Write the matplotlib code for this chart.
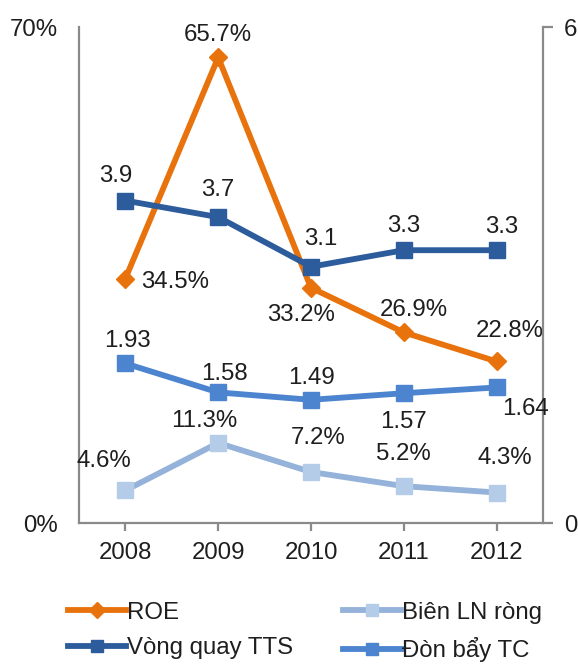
import matplotlib
matplotlib.use("Agg")
import matplotlib.pyplot as plt
from matplotlib.lines import Line2D

plt.rcParams['font.family'] = ['Liberation Sans', 'DejaVu Sans']

years = ["2008", "2009", "2010", "2011", "2012"]
roe = [34.5, 65.7, 33.2, 26.9, 22.8]           # %
bien_ln = [4.6, 11.3, 7.2, 5.2, 4.3]           # %
vong_quay = [3.9, 3.7, 3.1, 3.3, 3.3]
don_bay = [1.93, 1.58, 1.49, 1.57, 1.64]

roe_lbl = ["34.5%", "65.7%", "33.2%", "26.9%", "22.8%"]
bien_lbl = ["4.6%", "11.3%", "7.2%", "5.2%", "4.3%"]
vq_lbl = ["3.9", "3.7", "3.1", "3.3", "3.3"]
db_lbl = ["1.93", "1.58", "1.49", "1.57", "1.64"]

C_ROE = "#E8720C"
C_VQ = "#2D5C9C"
C_DB = "#4C84D0"
C_BIEN_L = "#94B2DA"
C_BIEN_M = "#B5CCE8"
GREY = "#8A8A8A"
TXT = "#1E1E1E"
FS = 17.3

fig = plt.figure(figsize=(5.78, 6.66), dpi=100)
ax = fig.add_axes([79/578, 1-523/666, (543-79)/578, (523-27)/666])
ax2 = ax.twinx()

x = list(range(len(years)))
lw = 4.2
ax.plot(x, roe, color=C_ROE, lw=lw, marker='D', ms=9.5, zorder=5)
ax.plot(x, bien_ln, color=C_BIEN_L, lw=lw, marker='s', ms=11,
        mfc=C_BIEN_M, mec=C_BIEN_M, zorder=4)
ax2.plot(x, vong_quay, color=C_VQ, lw=lw, marker='s', ms=11, zorder=4)
ax2.plot(x, don_bay, color=C_DB, lw=lw, marker='s', ms=11, zorder=4)

ax.set_xlim(-0.5, 4.5)
ax.set_ylim(0, 70)
ax2.set_ylim(0, 6)

ax.set_yticks([0, 70])
ax.set_yticklabels(["0%", "70%"])
ax2.set_yticks([0, 6])
ax2.set_yticklabels(["0", "6"])
ax.set_xticks(x)
ax.set_xticklabels(years)

for a in (ax, ax2):
    for s in a.spines.values():
        s.set_color(GREY)
        s.set_linewidth(1.6)
    a.spines['top'].set_visible(False)
ax2.spines['left'].set_visible(False)
ax2.spines['bottom'].set_visible(False)
ax.spines['right'].set_visible(False)

ax.tick_params(axis='y', length=0, pad=15, labelsize=FS, labelcolor=TXT)
ax.tick_params(axis='x', length=6, width=1.6, color=GREY, pad=8,
               labelsize=FS, labelcolor=TXT)
ax2.tick_params(axis='y', length=7, width=1.6, color=GREY, pad=8,
                labelsize=FS, labelcolor=TXT)

def lab(a, xs, ys, texts, offs, has):
    for xi, yi, t, (dx, dy), h in zip(xs, ys, texts, offs, has):
        a.annotate(t, (xi, yi), xytext=(dx, dy), textcoords='offset pixels',
                   ha=h, va='center', fontsize=FS, color=TXT, zorder=10)

lab(ax, x, roe, roe_lbl,
    [(16, -3), (0, 22), (-10, -27), (10, 22), (13, 30)],
    ['left', 'center', 'center', 'center', 'center'])
lab(ax, x, bien_ln, bien_lbl,
    [(-22, 29), (-14, 22), (7, 34), (0, 32), (8, 35)],
    ['center'] * 5)
lab(ax2, x, vong_quay, vq_lbl,
    [(-10, 25), (0, 27), (10, 28), (0, 24), (5, 23)],
    ['center'] * 5)
lab(ax2, x, don_bay, db_lbl,
    [(2, 22), (6, 18), (0, 22), (0, -29), (29, -22)],
    ['center'] * 5)

handles = [
    Line2D([], [], color=C_ROE, lw=lw, marker='D', ms=8),
    Line2D([], [], color=C_VQ, lw=lw, marker='s', ms=9),
    Line2D([], [], color=C_BIEN_L, lw=lw, marker='s', ms=9, mfc=C_BIEN_M, mec=C_BIEN_M),
    Line2D([], [], color=C_DB, lw=lw, marker='s', ms=9),
]
labels = ["ROE", "Vòng quay TTS", "Biên LN ròng", "Đòn bẩy TC"]
fig.legend(handles, labels, ncol=2, loc='center', bbox_to_anchor=(305/578, 1-632/666),
           frameon=False, fontsize=FS, handlelength=2.4, handletextpad=0.05,
           columnspacing=2.1, labelspacing=0.55, labelcolor=TXT)

fig.savefig("out.png", dpi=100)
